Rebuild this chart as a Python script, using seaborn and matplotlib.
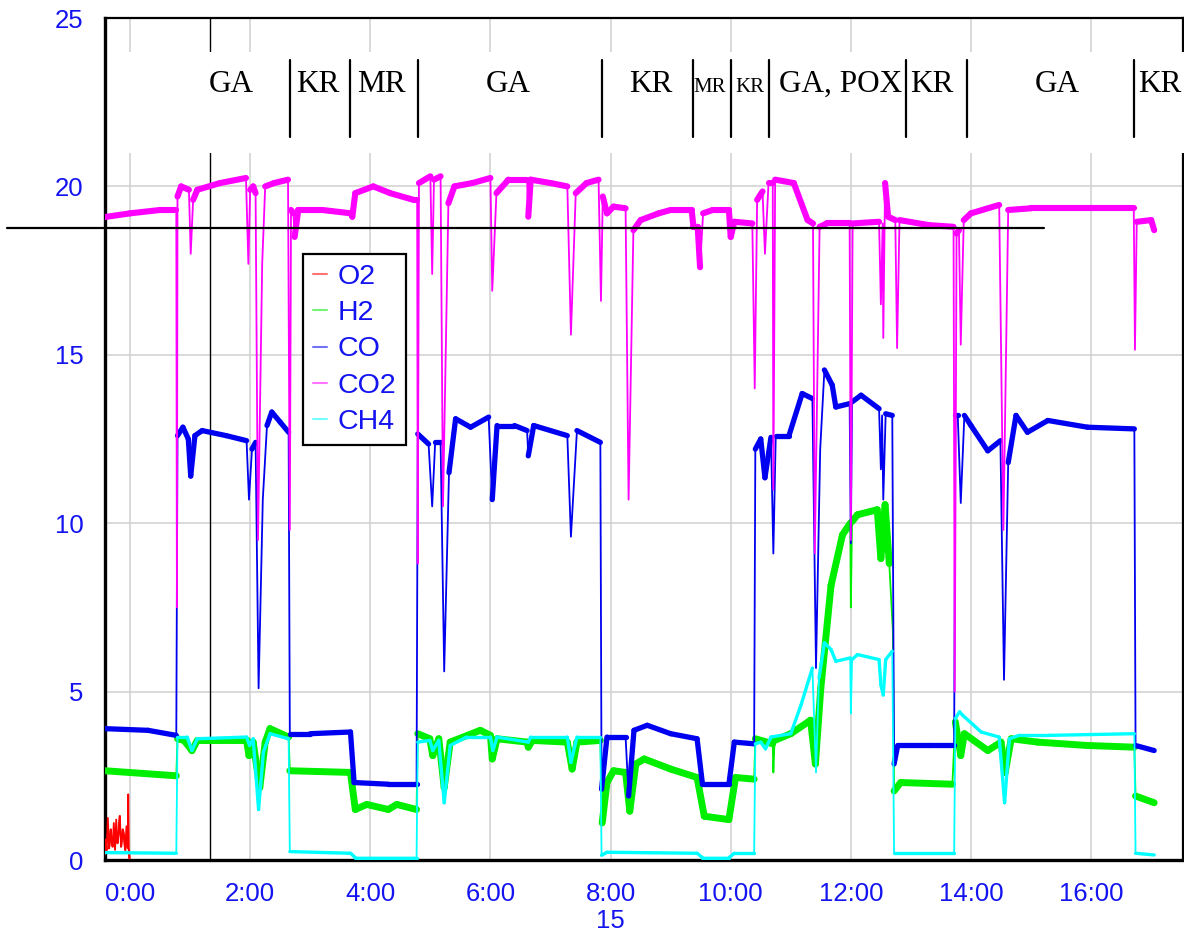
import numpy as np
import pandas as pd
import matplotlib
matplotlib.use("Agg")
import matplotlib.pyplot as plt
from matplotlib.lines import Line2D
from matplotlib.patches import Rectangle
from matplotlib.collections import LineCollection
import seaborn as sns

# gas concentrations (vol-%) over time (hours)
o2_t = [-0.42, -0.41, -0.39, -0.37, -0.35, -0.32, -0.31, -0.29, -0.27, -0.25, -0.23, -0.21,
        -0.19, -0.17, -0.15, -0.12, -0.10, -0.08, -0.06, -0.04, -0.03, -0.02, -0.01]
o2_v = [0.15, 0.6, 0.3, 1.25, 0.35, 0.9, 0.6, 0.4, 1.1, 0.3, 1.2, 0.5,
        0.8, 1.3, 0.4, 0.9, 0.7, 0.3, 1.0, 0.35, 1.95, 0.3, 0.05]

h2_t = [-0.42, 0.77, 0.79, 0.9, 1.03, 1.12, 1.94, 1.98, 2.05, 2.16, 2.25, 2.33, 2.64, 2.66,
        3.67, 3.75, 3.94, 4.3, 4.44, 4.77, 4.79, 4.99, 5.04, 5.14, 5.23, 5.33, 5.83, 6.0,
        6.03, 6.11, 6.61, 6.63, 6.7, 7.28, 7.36, 7.44, 7.83, 7.86, 7.94, 8.05, 8.25, 8.32,
        8.42, 8.56, 9.0, 9.44, 9.56, 9.97, 10.08, 10.39, 10.41, 10.7, 10.71, 10.73, 11.0,
        11.33, 11.41, 11.5, 11.67, 11.86, 11.99, 12.0, 12.02, 12.11, 12.44, 12.5, 12.57,
        12.64, 12.7, 12.72, 12.83, 13.69, 13.74, 13.83, 13.89, 14.28, 14.5, 14.57, 14.67,
        15.11, 15.94, 16.72, 16.74, 17.05]
h2_v = [2.65, 2.5, 3.6, 3.55, 3.25, 3.55, 3.55, 3.1, 3.5, 2.15, 3.5, 3.9, 3.65, 2.65,
        2.6, 1.5, 1.65, 1.5, 1.65, 1.5, 3.75, 3.6, 3.1, 3.6, 2.15, 3.5, 3.85, 3.7,
        3.0, 3.6, 3.5, 3.35, 3.55, 3.5, 2.7, 3.5, 3.55, 1.1, 2.3, 2.65, 2.6, 1.45,
        2.85, 3.0, 2.7, 2.45, 1.3, 1.2, 2.45, 2.4, 3.6, 3.45, 2.6, 3.55, 3.75,
        4.15, 2.85, 5.1, 8.15, 9.65, 10.0, 7.5, 10.05, 10.25, 10.4, 8.95, 10.55,
        8.8, 6.8, 2.05, 2.3, 2.25, 4.1, 3.1, 3.75, 3.25, 3.5, 2.6, 3.6,
        3.5, 3.4, 3.35, 1.9, 1.7]

co_t = [-0.42, 0.3, 0.77, 0.79, 0.88, 0.97, 1.01, 1.08, 1.2, 1.6, 1.94, 1.98, 2.03, 2.09,
        2.14, 2.21, 2.28, 2.36, 2.5, 2.64, 2.66, 3.0, 3.67, 3.73, 4.3, 4.77, 4.79, 4.97,
        5.03, 5.08, 5.17, 5.23, 5.31, 5.42, 5.67, 5.97, 6.03, 6.11, 6.4, 6.61, 6.63, 6.72,
        7.28, 7.34, 7.44, 7.83, 7.85, 7.94, 8.25, 8.3, 8.39, 8.61, 9.0, 9.44, 9.53, 9.97,
        10.06, 10.39, 10.41, 10.5, 10.57, 10.67, 10.71, 10.75, 10.97, 11.19, 11.36, 11.42,
        11.49, 11.56, 11.69, 11.75, 11.98, 12.0, 12.02, 12.17, 12.47, 12.5, 12.52, 12.54,
        12.58, 12.69, 12.72, 12.78, 13.3, 13.72, 13.74, 13.78, 13.83, 13.89, 14.0, 14.28,
        14.49, 14.55, 14.62, 14.75, 14.94, 15.28, 15.94, 16.72, 16.74, 17.05]
co_v = [3.9, 3.85, 3.7, 12.6, 12.85, 12.5, 11.4, 12.6, 12.75, 12.6, 12.45, 10.7, 12.2, 12.4,
        5.1, 10.7, 12.9, 13.3, 13.0, 12.7, 3.75, 3.75, 3.8, 2.3, 2.25, 2.25, 12.65, 12.35,
        10.5, 12.4, 12.4, 5.6, 11.5, 13.1, 12.85, 13.15, 10.7, 12.9, 12.9, 12.75, 12.0, 12.9,
        12.6, 9.6, 12.75, 12.4, 2.1, 3.65, 3.65, 1.9, 3.85, 4.0, 3.75, 3.6, 2.25, 2.25,
        3.5, 3.45, 12.2, 12.5, 11.35, 12.55, 9.1, 12.6, 12.6, 13.85, 13.7, 5.7,
        12.2, 14.55, 14.1, 13.45, 13.55, 9.4, 13.6, 13.8, 13.4, 11.6, 13.2, 10.7,
        13.25, 13.2, 2.85, 3.4, 3.4, 3.4, 13.2, 13.2, 10.6, 13.2, 12.9, 12.15,
        12.45, 5.35, 11.8, 13.2, 12.7, 13.05, 12.85, 12.8, 3.4, 3.25]

co2_t = [-0.42, 0.0, 0.5, 0.77, 0.78, 0.79, 0.85, 0.98, 1.01, 1.05, 1.12, 1.5, 1.93, 1.97,
         2.0, 2.05, 2.09, 2.13, 2.2, 2.25, 2.4, 2.63, 2.66, 2.68, 2.72, 2.74, 2.8, 3.2,
         3.68, 3.7, 3.75, 4.05, 4.33, 4.72, 4.78, 4.79, 4.81, 5.0, 5.03, 5.06, 5.17, 5.21,
         5.3, 5.4, 5.7, 6.0, 6.03, 6.1, 6.3, 6.61, 6.63, 6.67, 7.0, 7.28, 7.34, 7.42, 7.6,
         7.8, 7.84, 7.87, 7.94, 8.05, 8.25, 8.3, 8.38, 8.5, 8.8, 9.0, 9.35, 9.38, 9.45,
         9.49, 9.54, 9.7, 9.97, 10.0, 10.06, 10.36, 10.4, 10.44, 10.53, 10.57, 10.63, 10.7,
         10.71, 10.74, 11.05, 11.28, 11.37, 11.4, 11.48, 11.6, 11.98, 12.0, 12.03, 12.47,
         12.5, 12.53, 12.54, 12.57, 12.62, 12.74, 12.77, 12.81, 13.3, 13.71, 13.73, 13.76,
         13.8, 13.83, 13.88, 14.0, 14.47, 14.54, 14.62, 15.0, 16.0, 16.71, 16.73, 16.76,
         17.0, 17.05]
co2_v = [19.09, 19.2, 19.3, 19.3, 7.5, 19.7, 20.0, 19.9, 18.0, 19.6, 19.9, 20.1, 20.25, 17.7,
         19.9, 20.0, 19.8, 9.5, 17.7, 20.0, 20.1, 20.2, 9.8, 19.3, 19.2, 18.5, 19.3, 19.3,
         19.2, 19.1, 19.8, 20.0, 19.8, 19.6, 19.6, 8.8, 20.1, 20.3, 17.4, 20.2, 20.3, 10.5,
         19.5, 20.0, 20.1, 20.25, 16.9, 19.8, 20.2, 20.2, 19.1, 20.2, 20.1, 20.0, 15.6, 19.8, 20.1,
         20.2, 16.6, 19.7, 19.2, 19.4, 19.35, 10.7, 18.7, 19.0, 19.2, 19.3, 19.3, 18.8, 18.8,
         17.6, 19.2, 19.3, 19.3, 18.5, 18.95, 18.9, 14.0, 19.6, 19.85, 18.0, 20.1, 20.1,
         11.0, 20.2, 20.1, 19.0, 18.9, 9.1, 18.8, 18.9, 18.9, 9.5, 18.9, 18.95,
         16.5, 18.9, 15.5, 20.1, 19.1, 19.0, 15.2, 19.0, 18.85, 18.8, 5.0, 18.6,
         18.7, 15.3, 19.0, 19.2, 19.45, 9.8, 19.3, 19.35, 19.35, 19.35, 15.15, 18.95,
         19.0, 18.7]

ch4_t = [-0.42, 0.77, 0.79, 0.95, 1.03, 1.12, 1.94, 1.99, 2.05, 2.14, 2.22, 2.33, 2.64, 2.66,
         3.67, 3.75, 4.77, 4.79, 4.99, 5.04, 5.14, 5.23, 5.33, 5.6, 6.0, 6.04, 6.11, 6.63,
         6.67, 7.28, 7.34, 7.44, 7.83, 7.85, 7.94, 9.44, 9.53, 9.97, 10.06, 10.39, 10.41,
         10.5, 10.58, 10.67, 11.0, 11.17, 11.36, 11.42, 11.47, 11.56, 11.67, 11.75, 11.99,
         12.0, 12.02, 12.11, 12.47, 12.5, 12.54, 12.58, 12.69, 12.72, 13.72, 13.74, 13.81,
         13.86, 14.17, 14.47, 14.56, 14.64, 14.8, 15.28, 16.72, 16.74, 17.05]
ch4_v = [0.22, 0.2, 3.65, 3.65, 3.25, 3.6, 3.65, 3.4, 3.6, 1.5, 3.2, 3.75, 3.6, 0.25,
         0.2, 0.07, 0.07, 3.5, 3.55, 3.25, 3.55, 1.7, 3.4, 3.65, 3.65, 3.25, 3.65, 3.5,
         3.65, 3.65, 2.9, 3.65, 3.65, 0.14, 0.23, 0.2, 0.07, 0.07, 0.2, 0.2, 3.45,
         3.5, 3.3, 3.65, 3.75, 4.6, 5.7, 2.6, 5.4, 6.45, 6.25, 5.9, 6.0,
         4.35, 5.95, 6.1, 5.95, 5.2, 4.9, 5.95, 6.2, 0.2, 0.2, 4.2, 4.4,
         4.3, 3.8, 3.65, 1.7, 3.6, 3.7, 3.7, 3.75, 0.2, 0.15]

gases = ["O2", "H2", "CO", "CO2", "CH4"]
colors = ["#ff0000", "#00ee00", "#0000f0", "#ff00ff", "#00ffff"]
# width of the noisy band on the flat parts of each trace
band_lw = {"O2": 1.6, "H2": 5.0, "CO": 3.8, "CO2": 4.4, "CH4": 2.4}

# process phase annotations
sep_t = [2.667, 3.667, 4.8, 7.85, 9.367, 10.0, 10.633, 12.917, 13.933, 16.717]
phase_t = [1.68, 3.12, 4.18, 6.3, 8.67, 9.65, 10.32, 11.83, 13.35, 15.43, 17.14]
phase_lbl = ["GA", "KR", "MR", "GA", "KR", "MR", "KR", "GA, POX", "KR", "GA", "KR"]
phase_small = [False, False, False, False, False, True, True, False, False, False, False]

tick_h = [0, 2, 4, 6, 8, 10, 12, 14, 16]
tick_lbl = ["0:00", "2:00", "4:00", "6:00", "8:00\n15", "10:00", "12:00", "14:00", "16:00"]

ref_level = 18.76
marker_t = 1.333

frames = []
for g, t, v in [("O2", o2_t, o2_v), ("H2", h2_t, h2_v), ("CO", co_t, co_v),
                ("CO2", co2_t, co2_v), ("CH4", ch4_t, ch4_v)]:
    frames.append(pd.DataFrame({"t": t, "v": v, "gas": g}))
df = pd.concat(frames, ignore_index=True)

sns.set_style("white")
plt.rcParams["font.family"] = ["Liberation Sans", "DejaVu Sans"]
blue = "#1414f0"

fig = plt.figure(figsize=(11.84, 9.31), dpi=100)
ax = fig.add_axes([105 / 1184, 71 / 931, 1078 / 1184, 842 / 931])

sns.lineplot(data=df, x="t", y="v", hue="gas", hue_order=gases, palette=colors,
             estimator=None, sort=False, lw=1.3, legend=False, ax=ax)

# thicker band on the slowly varying parts (looks like the noisy signal)
for i, (g, c) in enumerate(zip(gases, colors)):
    ax.lines[i].set_zorder(3 + 0.1 * i)
    sub = df[df["gas"] == g]
    t = sub["t"].to_numpy()
    v = sub["v"].to_numpy()
    slope = np.abs(np.diff(v) / np.diff(t))
    segs = np.stack([np.column_stack([t[:-1], v[:-1]]),
                     np.column_stack([t[1:], v[1:]])], axis=1)
    flat = slope < 30
    lc = LineCollection(segs[flat], colors=c, linewidths=band_lw[g],
                        capstyle="round", joinstyle="round", zorder=3 + 0.1 * i)
    ax.add_collection(lc)

ax.set_xlim(-0.417, 17.53)
ax.set_ylim(0, 25)
ax.set_xlabel("")
ax.set_ylabel("")

ax.set_xticks(tick_h)
ax.set_xticklabels(tick_lbl)
ax.set_xticks(np.arange(1, 18, 2), minor=True)
ax.set_yticks([0, 5, 10, 15, 20, 25])
ax.set_yticks(np.arange(2.5, 25, 5), minor=True)
ax.tick_params(which="major", direction="inout", length=19, width=2.2, colors="black",
               labelcolor=blue, labelsize=18.5, pad=6)
ax.tick_params(which="minor", direction="inout", length=9.5, width=2.2, colors="black")
ax.grid(True, which="major", color="#d0d0d0", lw=1.1)
ax.set_axisbelow(True)

for s in ["left", "bottom"]:
    ax.spines[s].set_linewidth(2.4)
for s in ["top", "right"]:
    ax.spines[s].set_linewidth(1.6)
for s in ax.spines.values():
    s.set_color("black")

ax.axvline(marker_t, color="black", lw=1.0, zorder=2)
ax.plot([-2.05, 15.22], [ref_level, ref_level], color="black", lw=1.6, clip_on=False, zorder=6)

# white band for the phase labels
band = Rectangle((0.003, 21.0), 1.01, 3.0, transform=ax.get_yaxis_transform(),
                 facecolor="white", edgecolor="none", zorder=7, clip_on=False)
ax.add_patch(band)
for s in sep_t:
    ax.plot([s, s], [21.47, 23.75], color="black", lw=1.6, zorder=8, clip_on=False)
for t, lbl, small in zip(phase_t, phase_lbl, phase_small):
    ax.text(t, 22.81, lbl, ha="center", va="baseline", fontsize=15 if small else 22.5,
            family="Liberation Serif", color="black", zorder=9, clip_on=False)

handles = [Line2D([0], [0], color=c, lw=1.5, alpha=0.55) for c in colors]
leg = ax.legend(handles, gases, loc="upper left", bbox_to_anchor=(0.1837, 0.7197),
                borderaxespad=0, fontsize=20.5, handlelength=0.5, handletextpad=0.35,
                labelspacing=0.36, borderpad=0.35, fancybox=False, framealpha=1,
                edgecolor="black")
leg.get_frame().set_linewidth(1.6)
leg.set_zorder(10)
for txt in leg.get_texts():
    txt.set_color(blue)

fig.savefig("out.png", dpi=100)
